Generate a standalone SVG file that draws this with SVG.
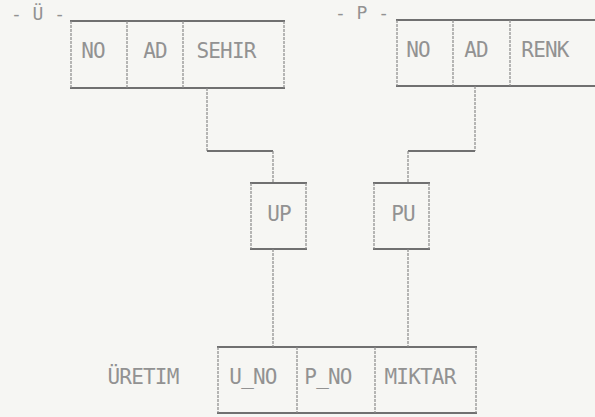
<svg xmlns="http://www.w3.org/2000/svg" width="595" height="417" viewBox="0 0 595 417">
<style>
.bg{fill:#f6f6f3}
.h{stroke:#707070;stroke-width:2;fill:none}
.v{stroke:#8a8a8a;stroke-width:1.2;stroke-dasharray:3 1;fill:none}
.t{font-family:"DejaVu Sans Mono","Liberation Mono",monospace;font-size:21px;fill:#929292;text-anchor:middle;letter-spacing:-0.8px}
.hd{font-size:18px;letter-spacing:0}
</style>
<rect class="bg" x="0" y="0" width="595" height="417"/>
<g id="U">
<text class="t hd" x="38" y="20">- Ü -</text>
<line class="h" x1="70" y1="21" x2="285" y2="21"/>
<line class="h" x1="70" y1="88" x2="285" y2="88"/>
<line class="v" x1="71" y1="21" x2="71" y2="88"/>
<line class="v" x1="127" y1="21" x2="127" y2="88"/>
<line class="v" x1="183" y1="21" x2="183" y2="88"/>
<line class="v" x1="284" y1="21" x2="284" y2="88"/>
<text class="t" x="93" y="58">NO</text>
<text class="t" x="155" y="58">AD</text>
<text class="t" x="226" y="58">SEHIR</text>
</g>
<g id="P">
<text class="t hd" x="362" y="19">- P -</text>
<line class="h" x1="396" y1="20" x2="595" y2="20"/>
<line class="h" x1="396" y1="86" x2="595" y2="86"/>
<line class="v" x1="397" y1="20" x2="397" y2="86"/>
<line class="v" x1="453" y1="20" x2="453" y2="86"/>
<line class="v" x1="510" y1="20" x2="510" y2="86"/>
<text class="t" x="418" y="57">NO</text>
<text class="t" x="476" y="57">AD</text>
<text class="t" x="545" y="57">RENK</text>
</g>
<g id="UP">
<line class="h" x1="250" y1="183" x2="307" y2="183"/>
<line class="h" x1="250" y1="249" x2="307" y2="249"/>
<line class="v" x1="251" y1="183" x2="251" y2="249"/>
<line class="v" x1="306" y1="183" x2="306" y2="249"/>
<text class="t" x="279" y="221">UP</text>
</g>
<g id="PU">
<line class="h" x1="373" y1="183" x2="430" y2="183"/>
<line class="h" x1="373" y1="249" x2="430" y2="249"/>
<line class="v" x1="374" y1="183" x2="374" y2="249"/>
<line class="v" x1="429" y1="183" x2="429" y2="249"/>
<text class="t" x="403" y="221">PU</text>
</g>
<g id="URETIM">
<text class="t" x="143" y="384">ÜRETIM</text>
<line class="h" x1="217" y1="347" x2="477" y2="347"/>
<line class="h" x1="217" y1="413" x2="477" y2="413"/>
<line class="v" x1="218" y1="347" x2="218" y2="413"/>
<line class="v" x1="297" y1="347" x2="297" y2="413"/>
<line class="v" x1="375" y1="347" x2="375" y2="413"/>
<line class="v" x1="476" y1="347" x2="476" y2="413"/>
<text class="t" x="253" y="384">U_NO</text>
<text class="t" x="328" y="384">P_NO</text>
<text class="t" x="420" y="384">MIKTAR</text>
</g>
<g id="connectors">
<line class="v" x1="207" y1="88" x2="207" y2="151"/>
<line class="h" x1="207" y1="151" x2="273" y2="151"/>
<line class="v" x1="273" y1="151" x2="273" y2="183"/>
<line class="v" x1="475" y1="86" x2="475" y2="151"/>
<line class="h" x1="408" y1="151" x2="475" y2="151"/>
<line class="v" x1="408" y1="151" x2="408" y2="183"/>
<line class="v" x1="273" y1="249" x2="273" y2="347"/>
<line class="v" x1="408" y1="249" x2="408" y2="347"/>
</g>
</svg>
